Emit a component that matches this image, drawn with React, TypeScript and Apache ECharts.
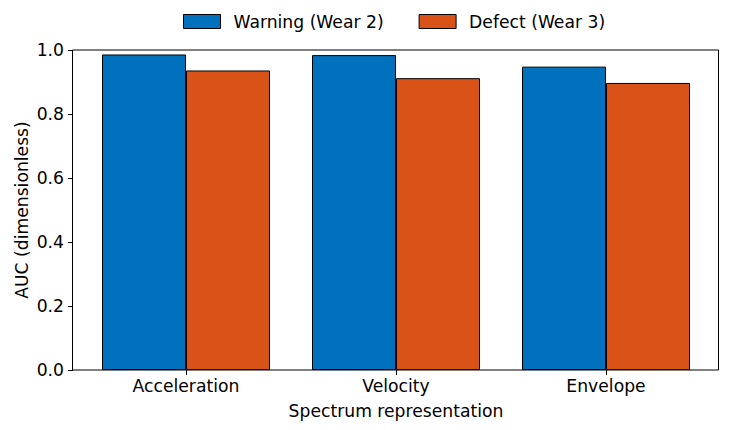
import React, { useEffect, useRef } from "react";
import * as echarts from "echarts";

const categories = ["Acceleration", "Velocity", "Envelope"];
const warningValues = [0.986, 0.984, 0.948];
const defectValues = [0.936, 0.912, 0.897];
const seriesNames = ["Warning (Wear 2)", "Defect (Wear 3)"];

const FONT = "DejaVu Sans";

export default function App() {
  const ref = useRef<HTMLDivElement>(null);
  useEffect(() => {
    document.body.style.margin = "0";
    const chart = echarts.init(ref.current!, null, { renderer: "svg" });
    const textStyle = { fontFamily: FONT, fontSize: 17.2, color: "#000" };
    chart.setOption({
      animation: false,
      textStyle: { fontFamily: FONT },
      legend: {
        top: 8,
        left: 178,
        width: 600,
        orient: "horizontal",
        icon: "rect",
        itemWidth: 37,
        itemHeight: 14,
        itemGap: 35,
        itemStyle: { borderColor: "#000", borderWidth: 1 },
        textStyle: { ...textStyle, padding: [0, 0, 0, 8] },
        data: seriesNames,
      },
      grid: { left: 81, right: 22, top: 50, bottom: 60, containLabel: false },
      xAxis: {
        type: "category",
        data: categories,
        axisLine: { show: false },
        axisTick: { show: true, alignWithLabel: true, length: 5, lineStyle: { color: "#000", width: 1 } },
        axisLabel: { ...textStyle, margin: 7 },
        name: "Spectrum representation",
        nameLocation: "middle",
        nameGap: 32,
        nameTextStyle: textStyle,
      },
      yAxis: {
        type: "value",
        min: 0,
        max: 1,
        interval: 0.2,
        offset: 8,
        axisLine: { show: false },
        axisTick: { show: true, length: 5, lineStyle: { color: "#000", width: 1 } },
        splitLine: { show: false },
        axisLabel: { ...textStyle, margin: 9, formatter: (v: number) => v.toFixed(1) },
        name: "AUC (dimensionless)",
        nameLocation: "middle",
        nameMoveOverlap: false,
        nameGap: 43,
        nameTextStyle: textStyle,
      },
      graphic: [
        {
          type: "rect",
          shape: { x: 72.5, y: 50, width: 646, height: 320 },
          style: { fill: "none", stroke: "#000", lineWidth: 1 },
          z: 100,
          silent: true,
        },
      ],
      series: [
        {
          name: seriesNames[0],
          type: "bar",
          data: warningValues,
          barWidth: 84,
          barGap: "0%",
          itemStyle: { color: "#0072BD", borderColor: "#000", borderWidth: 1 },
        },
        {
          name: seriesNames[1],
          type: "bar",
          data: defectValues,
          barWidth: 84,
          barGap: "0%",
          itemStyle: { color: "#D95319", borderColor: "#000", borderWidth: 1 },
        },
      ],
    });
    return () => chart.dispose();
  }, []);
  return <div ref={ref} style={{ width: 733, height: 430 }} />;
}
